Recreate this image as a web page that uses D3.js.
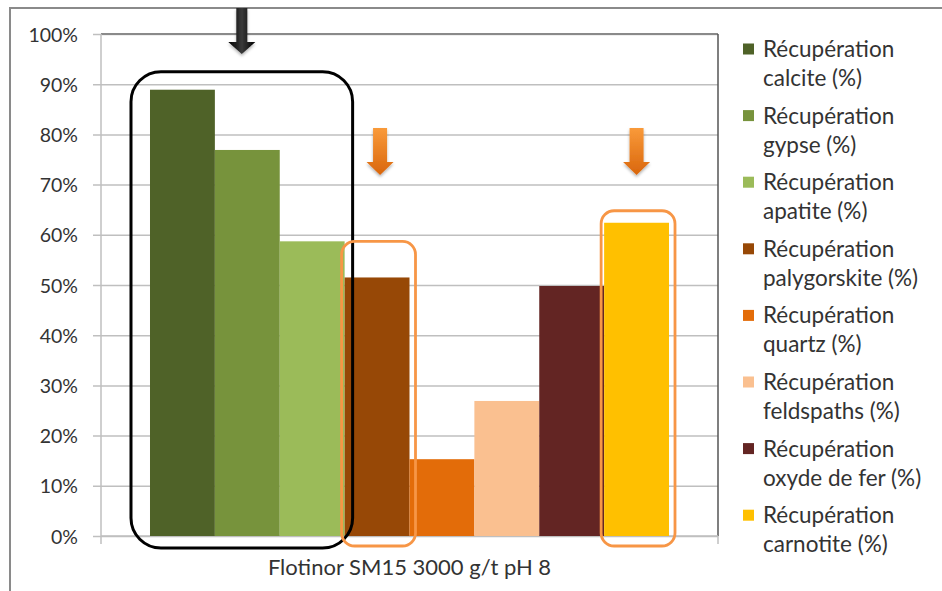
<!DOCTYPE html>
<html><head><meta charset="utf-8">
<script src="https://cdn.jsdelivr.net/npm/d3@7"></script>
<style>body{margin:0;background:#fff}svg{display:block}text{font-family:Lato,"Open Sans",sans-serif;fill:#333}</style>
</head><body><svg id="c" width="942" height="591"></svg>
<script>
const categories = ["Flotinor SM15 3000 g/t pH 8"];
const seriesNames = ["Récupération calcite (%)","Récupération gypse (%)","Récupération apatite (%)","Récupération palygorskite (%)","Récupération quartz (%)","Récupération feldspaths (%)","Récupération oxyde de fer (%)","Récupération carnotite (%)"];
const legendLine1 = ["Récupération","Récupération","Récupération","Récupération","Récupération","Récupération","Récupération","Récupération"];
const legendLine2 = ["calcite (%)","gypse (%)","apatite (%)","palygorskite (%)","quartz (%)","feldspaths (%)","oxyde de fer (%)","carnotite (%)"];
const values = [0.889, 0.769, 0.587, 0.515, 0.153, 0.269, 0.498, 0.624];
const colors = ["#4f6228","#77933c","#9bbb59","#974806","#e36c09","#fac090","#632523","#ffc000"];
const yTicks = [0,0.1,0.2,0.3,0.4,0.5,0.6,0.7,0.8,0.9,1.0];

const svg = d3.select("#c");
const L=101,R=718,T=34,B=536;
const y = d3.scaleLinear().domain([0,1]).range([B,T]);
const x0 = d3.scaleBand().domain(categories).range([L,R]).paddingOuter(0.0944).paddingInner(0);
const x1 = d3.scaleBand().domain(seriesNames).range([0,x0.bandwidth()]);

// outer frame
svg.append("rect").attr("x",10).attr("y",8).attr("width",1000).attr("height",700)
  .attr("fill","none").attr("stroke","#8a8a8a").attr("stroke-width",2);

// gridlines
const yAxis = d3.axisLeft(y).tickValues(yTicks).tickFormat(d3.format(".0%")).tickSize(-(R-L)).tickPadding(23);
const ga = svg.append("g").attr("transform",`translate(${L},0)`).call(yAxis);
ga.select(".domain").remove();
ga.selectAll(".tick line").attr("stroke","#bfbfbf").attr("stroke-width",1.5).attr("x1",-8);
ga.selectAll(".tick text").style("font-size","19.5px").attr("fill","#262626").attr("dy","0.36em");

// plot border lines (top, right) and axes
svg.append("line").attr("x1",L).attr("x2",R).attr("y1",T).attr("y2",T).attr("stroke","#8a8a8a").attr("stroke-width",2);
svg.append("line").attr("x1",R).attr("x2",R).attr("y1",T).attr("y2",B).attr("stroke","#555").attr("stroke-width",1.5);
svg.append("line").attr("x1",L).attr("x2",L).attr("y1",T).attr("y2",B+8).attr("stroke","#bfbfbf").attr("stroke-width",1.5);
svg.append("line").attr("x1",R).attr("x2",R).attr("y1",B).attr("y2",B+8).attr("stroke","#bfbfbf").attr("stroke-width",1.5);
svg.append("line").attr("x1",L).attr("x2",R).attr("y1",B).attr("y2",B).attr("stroke","#bfbfbf").attr("stroke-width",1.5);

// bars
const g = svg.append("g");
categories.forEach(c=>{
  g.selectAll("rect.bar").data(values).join("rect").attr("class","bar")
    .attr("x",(d,i)=>x0(c)+x1(seriesNames[i]))
    .attr("width",x1.bandwidth())
    .attr("y",d=>y(d)).attr("height",d=>y(0)-y(d))
    .attr("fill",(d,i)=>colors[i]);
});

// category label
svg.append("text").attr("x",x0(categories[0])+x0.bandwidth()/2).attr("y",575)
  .attr("text-anchor","middle").style("font-size","22px").attr("fill","#262626").text(categories[0]);

// legend
const lg = svg.append("g");
seriesNames.forEach((s,i)=>{
  const cy = 49 + i*66.6;
  lg.append("rect").attr("x",743).attr("y",cy-5.5).attr("width",11).attr("height",11).attr("fill",colors[i]);
  lg.append("text").attr("x",763).attr("y",cy+8).style("font-size","22.5px").attr("fill","#222").text(legendLine1[i]);
  lg.append("text").attr("x",763).attr("y",cy+37).style("font-size","22.5px").attr("fill","#222").text(legendLine2[i]);
});

// annotations
const defs = svg.append("defs");
const og = defs.append("linearGradient").attr("id","og").attr("x1",0).attr("y1",0).attr("x2",0).attr("y2",1);
og.append("stop").attr("offset","0").attr("stop-color","#f99a3a");
og.append("stop").attr("offset","1").attr("stop-color","#d9660c");
const kg = defs.append("linearGradient").attr("id","kg").attr("x1",0).attr("y1",0).attr("x2",1).attr("y2",0);
kg.append("stop").attr("offset","0").attr("stop-color","#000");
kg.append("stop").attr("offset","0.5").attr("stop-color","#3a3a3a");
kg.append("stop").attr("offset","1").attr("stop-color","#000");
const sh = defs.append("filter").attr("id","sh").attr("x","-50%").attr("y","-50%").attr("width","200%").attr("height","200%");
sh.append("feDropShadow").attr("dx",0).attr("dy",2).attr("stdDeviation",1.5).attr("flood-color","#000").attr("flood-opacity",0.3);

const bx = i => x0(categories[0]) + x1(seriesNames[i]);
const bw = x1.bandwidth();
// black group box (calcite..apatite)
const bL = bx(0)-19, bR = bx(2)+bw+8;
svg.append("rect").attr("x",bL).attr("y",y(values[0])-18).attr("width",bR-bL).attr("height",y(0)+12-(y(values[0])-18))
  .attr("rx",30).attr("ry",30).attr("fill","none").attr("stroke","#000").attr("stroke-width",3);
// orange boxes
[[3,36],[7,12]].forEach(([i,off])=>{
  const l = bx(i)-3, r = bx(i)+bw+6;
  svg.append("rect").attr("x",l).attr("y",y(values[i])-off).attr("width",r-l).attr("height",y(0)+10-(y(values[i])-off))
    .attr("rx",13).attr("ry",13).attr("fill","none").attr("stroke","#f79646").attr("stroke-width",2.8);
});
function arrow(cx, top, headStart, tip, sw, hw, fill){
  const p = `M${cx-sw/2},${top}L${cx+sw/2},${top}L${cx+sw/2},${headStart}L${cx+hw/2},${headStart}L${cx},${tip}L${cx-hw/2},${headStart}L${cx-sw/2},${headStart}Z`;
  svg.append("path").attr("d",p).attr("fill",fill).attr("filter","url(#sh)");
}
arrow((bL+bR)/2, 8, 42, 54, 11, 27, "url(#kg)");
arrow(bx(3)+bw/2+3, 128, 162, 175, 14, 27, "url(#og)");
arrow(bx(7)+bw/2, 128, 162, 175, 14, 27, "url(#og)");
</script></body></html>
